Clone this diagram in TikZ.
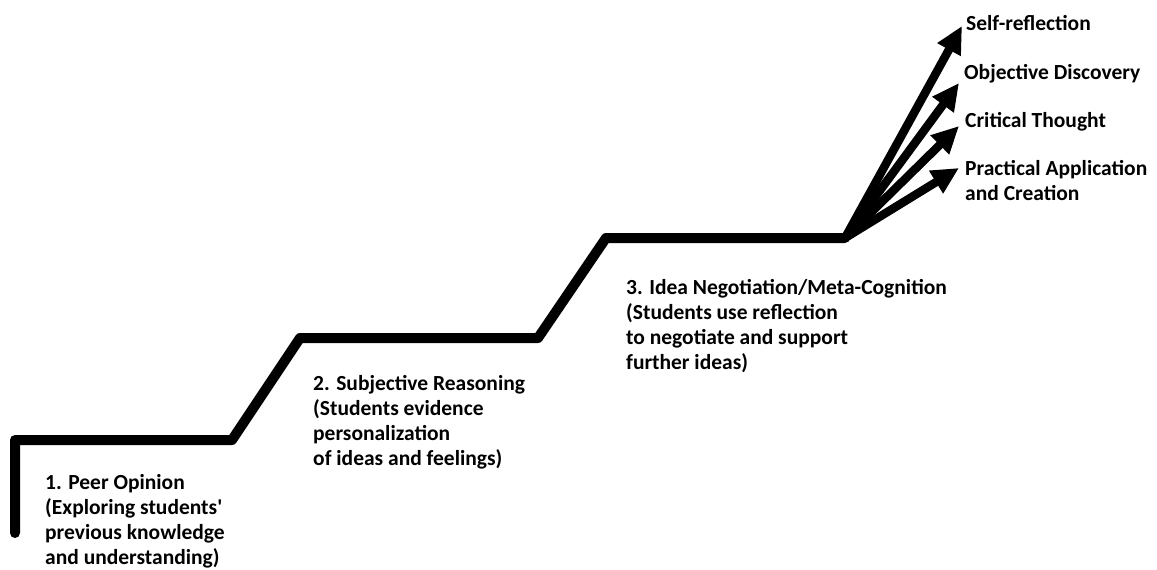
\documentclass[tikz,border=0pt]{standalone}
\usepackage{fontspec}
\setmainfont{Carlito}
\usetikzlibrary{arrows.meta}
\begin{document}
\begin{tikzpicture}[x=1pt,y=-1pt,
  stair/.style={line width=10pt, line join=round, line cap=round},
  branch/.style={line width=8.5pt, -{Triangle[length=27pt,width=25pt]}},
  lbl/.style={anchor=base west, align=left, inner sep=0pt,
    font=\fontsize{21.5pt}{25pt}\selectfont\bfseries}]
\useasboundingbox (0,0) rectangle (1157,570);
% staircase corners
\coordinate (s0) at (15,533);
\coordinate (s1) at (15,440);
\coordinate (s2) at (232,440);
\coordinate (s3) at (300,338);
\coordinate (s4) at (538,338);
\coordinate (s5) at (606,238);
\coordinate (hub) at (845,238);
\draw[stair] (s0) -- (s1) -- (s2) -- (s3) -- (s4) -- (s5) -- (hub);
% arrow tips
\coordinate (t1) at (962,26);
\coordinate (t2) at (959,83);
\coordinate (t3) at (959,126);
\coordinate (t4) at (959,168);
\draw[branch] (hub) -- (t1);
\draw[branch] (hub) -- (t2);
\draw[branch] (hub) -- (t3);
\draw[branch] (hub) -- (t4);
% labels (base anchor = baseline of the last line)
\node[lbl] (l1) at (966,30) {Self-reflection};
\node[lbl] (l2) at (964,79) {Objective Discovery};
\node[lbl] (l3) at (965,127) {Critical Thought};
\node[lbl] (l4) at (965,200) {Practical Application\\and Creation};
\node[lbl] (p1) at (45,564) {1. Peer Opinion\\(Exploring students\textquotesingle\\previous knowledge\\and understanding)};
\node[lbl] (p2) at (313,465) {2. Subjective Reasoning\\(Students evidence\\personalization\\of ideas and feelings)};
\node[lbl] (p3) at (626,369) {3. Idea Negotiation/Meta-Cognition\\(Students use reflection\\to negotiate and support\\further ideas)};
\end{tikzpicture}
\end{document}
